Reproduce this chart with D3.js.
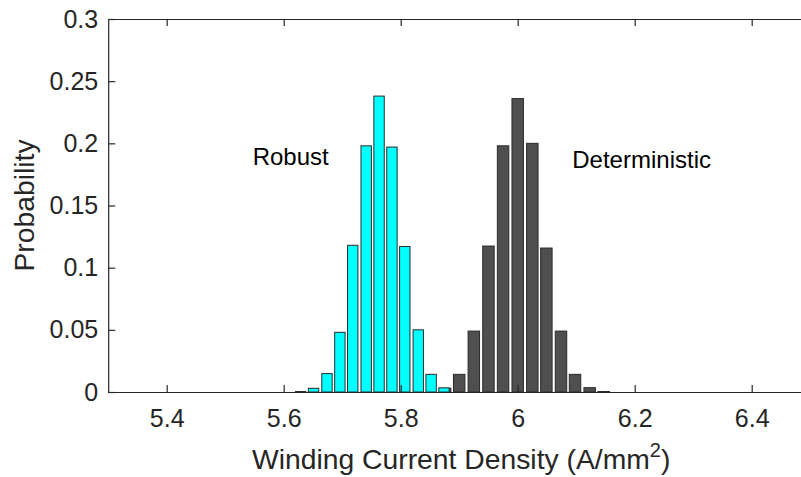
<!DOCTYPE html>
<html>
<head>
<meta charset="utf-8">
<script src="https://cdn.jsdelivr.net/npm/d3@7"></script>
<style>
  html, body { margin: 0; padding: 0; background: #fff; }
  svg { display: block; font-family: "Liberation Sans", Arial, Helvetica, sans-serif; }
</style>
</head>
<body>
<div id="chart"></div>
<script>
// Histogram data (bin centres and probabilities)
const robustCenters = [5.629, 5.651, 5.674, 5.696, 5.718, 5.741, 5.763, 5.785, 5.807, 5.830, 5.852, 5.874];
const robustProb    = [0.0004, 0.003, 0.0148, 0.048, 0.118, 0.198, 0.238, 0.197, 0.117, 0.050, 0.0142, 0.0033];

const detCenters = [5.876, 5.900, 5.925, 5.950, 5.975, 6.000, 6.025, 6.049, 6.074, 6.098, 6.123, 6.147];
const detProb    = [0.003, 0.0142, 0.049, 0.1174, 0.198, 0.236, 0.200, 0.1158, 0.049, 0.0142, 0.0035, 0.0004];

const robustBin = 0.0222, detBin = 0.0245;

const xTicks = [5.4, 5.6, 5.8, 6.0, 6.2, 6.4];
const xTickLabels = ["5.4", "5.6", "5.8", "6", "6.2", "6.4"];
const yTicks = [0, 0.05, 0.1, 0.15, 0.2, 0.25, 0.3];
const yTickLabels = ["0", "0.05", "0.1", "0.15", "0.2", "0.25", "0.3"];

// Chart settings
const W = 801, H = 477;
const plot = { left: 108.2, right: 810.2, top: 19, bottom: 392 };
const axisColor = "#262626";

const svg = d3.select("#chart")
  .append("svg")
  .attr("width", W)
  .attr("height", H);

const x = d3.scaleLinear().domain([5.3, 6.5]).range([plot.left, plot.right]);
const y = d3.scaleLinear().domain([0, 0.3]).range([plot.bottom, plot.top]);

// Bars: deterministic first, robust on top
function drawBars(centers, probs, bin, fill, cls) {
  const data = centers.map((c, i) => ({ c, p: probs[i] }));
  svg.append("g").selectAll("rect." + cls)
    .data(data)
    .enter()
    .append("rect")
    .attr("class", cls)
    .attr("x", d => x(d.c - bin * 0.4))
    .attr("width", d => x(d.c + bin * 0.4) - x(d.c - bin * 0.4))
    .attr("y", d => y(d.p))
    .attr("height", d => y(0) - y(d.p))
    .attr("fill", fill)
    .attr("stroke", "#2b2b2b")
    .attr("stroke-width", 1);
}
drawBars(detCenters, detProb, detBin, "#4f4f4f", "det");
drawBars(robustCenters, robustProb, robustBin, "#00ffff", "rob");

// Axes (ticks pointing inward)
const xAxis = d3.axisBottom(x).tickValues(xTicks)
  .tickFormat((d, i) => xTickLabels[i]).tickSizeInner(-7).tickSizeOuter(0).tickPadding(17.5);
const gx = svg.append("g").attr("transform", `translate(0,${plot.bottom})`).call(xAxis);

const xTop = d3.axisTop(x).tickValues(xTicks).tickFormat("").tickSizeInner(-7).tickSizeOuter(0);
const gxt = svg.append("g").attr("transform", `translate(0,${plot.top})`).call(xTop);

const yAxis = d3.axisLeft(y).tickValues(yTicks)
  .tickFormat((d, i) => yTickLabels[i]).tickSizeInner(-7).tickSizeOuter(0).tickPadding(10);
const gy = svg.append("g").attr("transform", `translate(${plot.left},0)`).call(yAxis);

const yRight = d3.axisRight(y).tickValues(yTicks).tickFormat("").tickSizeInner(-7).tickSizeOuter(0);
const gyr = svg.append("g").attr("transform", `translate(${plot.right},0)`).call(yRight);

[gx, gxt, gy, gyr].forEach(g => {
  g.selectAll("path, line").attr("stroke", axisColor).attr("stroke-width", 1.2);
  g.selectAll("text")
    .attr("fill", axisColor)
    .style("font-size", "25px")
    .style("font-family", '"Liberation Sans", Arial, sans-serif');
});

// Axis titles
const xTitle = svg.append("text")
  .attr("x", (plot.left + plot.right) / 2 + 2)
  .attr("y", 469)
  .attr("text-anchor", "middle")
  .attr("fill", axisColor)
  .style("font-size", "28.3px");
xTitle.append("tspan").text("Winding Current Density (A/mm");
xTitle.append("tspan").attr("dy", -12).style("font-size", "20px").text("2");
xTitle.append("tspan").attr("dy", 12).text(")");

svg.append("text")
  .attr("transform", `translate(33.5,${(plot.top + plot.bottom) / 2}) rotate(-90)`)
  .attr("text-anchor", "middle")
  .attr("fill", axisColor)
  .style("font-size", "28.3px")
  .text("Probability");

// Annotations
svg.append("text")
  .attr("x", x(5.547)).attr("y", y(0.1826))
  .attr("fill", "#000")
  .style("font-size", "24px")
  .text("Robust");

svg.append("text")
  .attr("x", x(6.0933)).attr("y", y(0.180))
  .attr("fill", "#000")
  .style("font-size", "24px")
  .text("Deterministic");
</script>
</body>
</html>
